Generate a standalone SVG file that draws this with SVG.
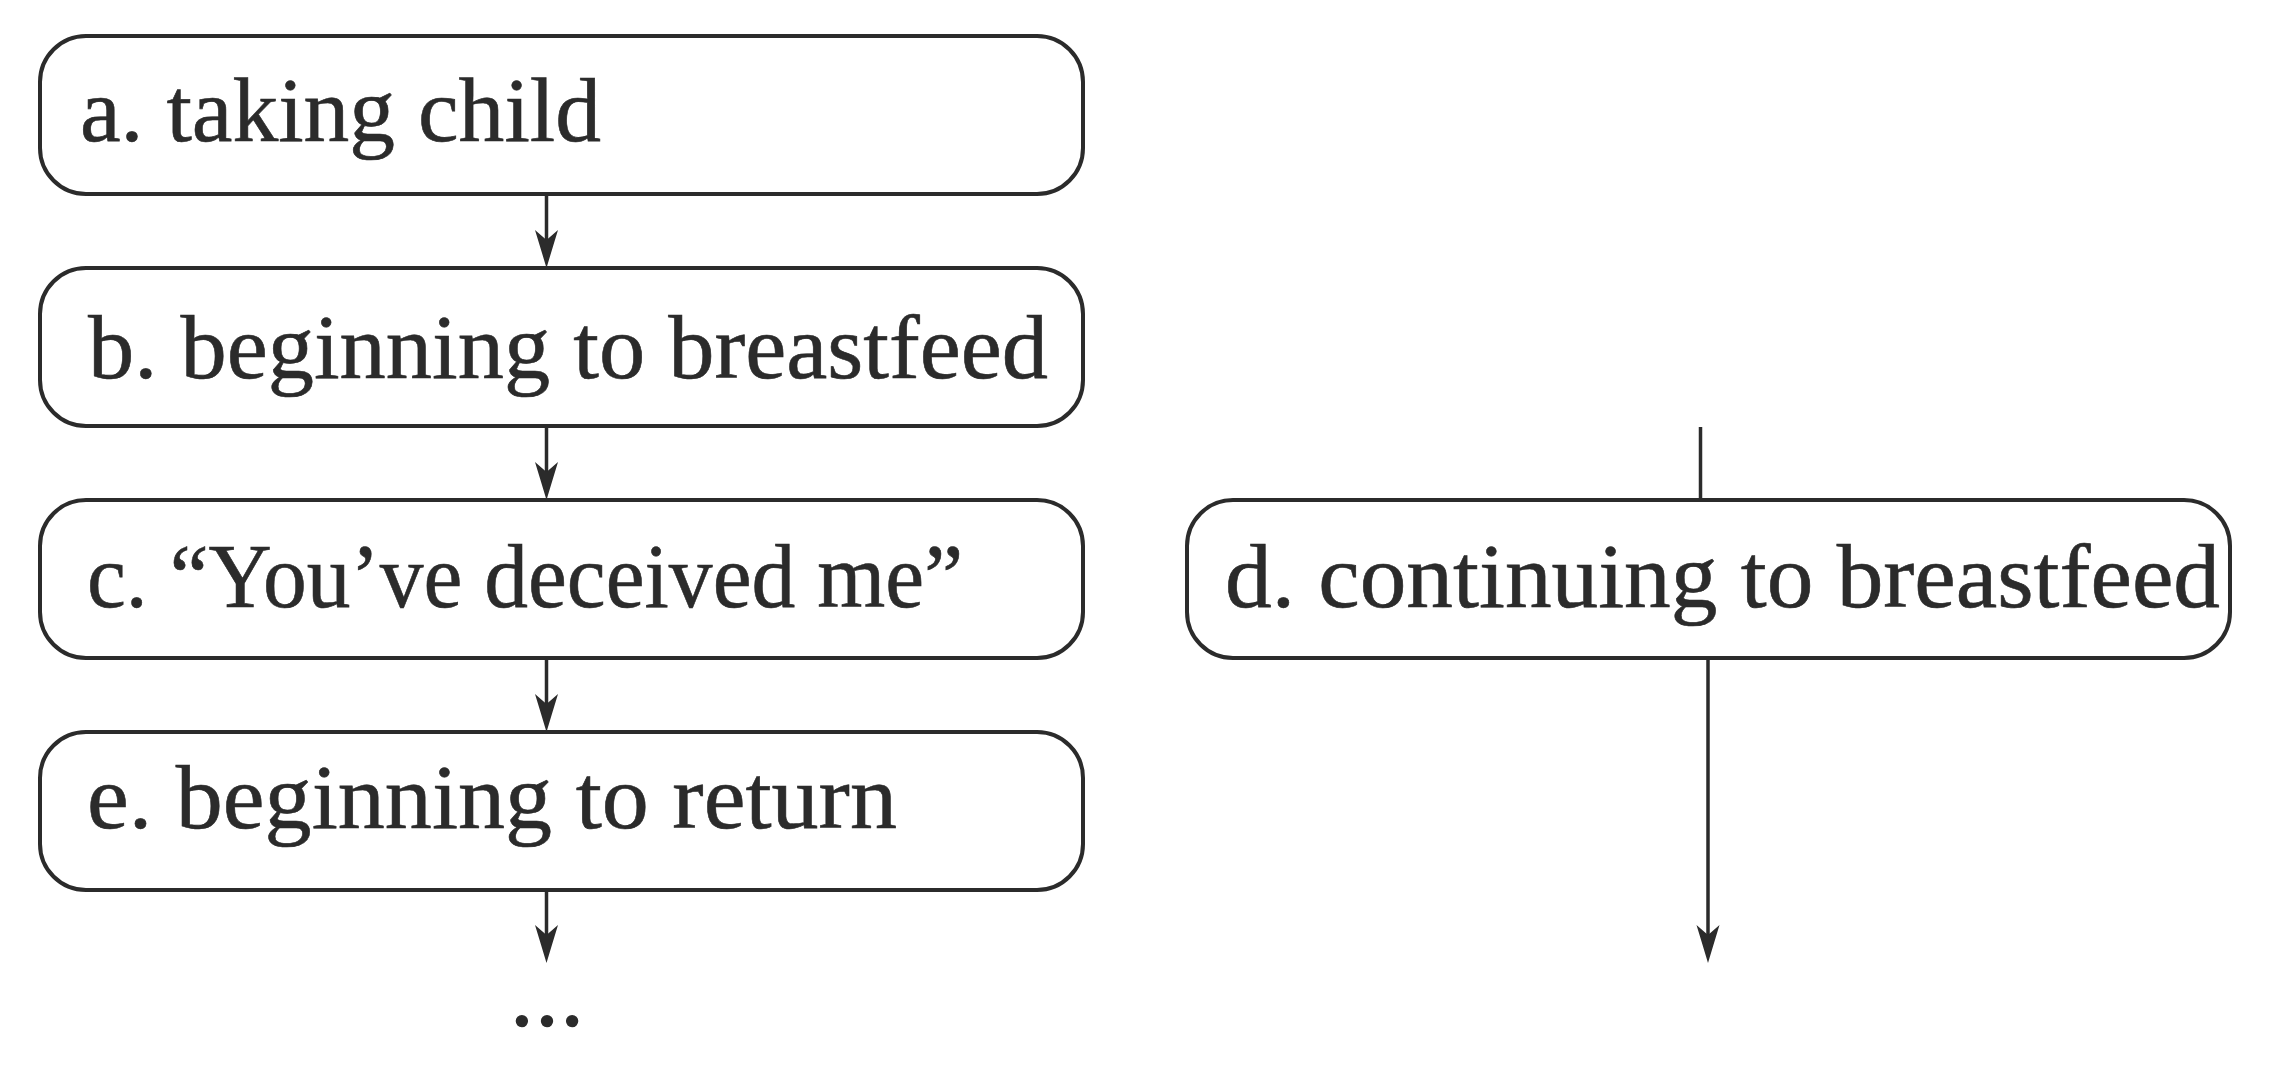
<svg xmlns="http://www.w3.org/2000/svg" width="2276" height="1068" viewBox="0 0 2276 1068">
<style>
.box{fill:#fff;stroke:#2b2b2b;stroke-width:4}
.lbl{font-family:"Liberation Serif","DejaVu Serif",serif;font-size:92px;fill:#2b2b2b;stroke:#2b2b2b;stroke-width:0.6}
.edge{stroke:#2b2b2b;stroke-width:3.5;fill:none}
</style>
<defs>
<marker id="ah" markerUnits="userSpaceOnUse" viewBox="0 0 38 24" refX="26" refY="12" markerWidth="38" markerHeight="24" orient="auto">
<path d="M38,12 Q18,6 0,0.5 L10,12 L0,23.5 Q18,18 38,12 Z" fill="#2b2b2b"/>
</marker>
</defs>
<rect width="2276" height="1068" fill="#fff"/>
<g id="connectors">
<line class="edge" x1="546.5" y1="195" x2="546.5" y2="256" marker-end="url(#ah)"/>
<line class="edge" x1="546.5" y1="427" x2="546.5" y2="488" marker-end="url(#ah)"/>
<line class="edge" x1="546.5" y1="659" x2="546.5" y2="720" marker-end="url(#ah)"/>
<line class="edge" x1="546.5" y1="891" x2="546.5" y2="951" marker-end="url(#ah)"/>
<line class="edge" x1="1700.5" y1="427" x2="1700.5" y2="500"/>
<line class="edge" x1="1708" y1="659" x2="1708" y2="951" marker-end="url(#ah)"/>
</g>
<g id="node-a">
<rect class="box" x="40" y="36" width="1043" height="158" rx="46" ry="46"/>
<text class="lbl" x="80" y="141" textLength="521" lengthAdjust="spacingAndGlyphs">a. taking child</text>
</g>
<g id="node-b">
<rect class="box" x="40" y="268" width="1043" height="158" rx="46" ry="46"/>
<text class="lbl" x="88" y="378" textLength="960" lengthAdjust="spacingAndGlyphs">b. beginning to breastfeed</text>
</g>
<g id="node-c">
<rect class="box" x="40" y="500" width="1043" height="158" rx="46" ry="46"/>
<text class="lbl" x="87" y="607" textLength="876" lengthAdjust="spacingAndGlyphs">c. “You’ve deceived me”</text>
</g>
<g id="node-e">
<rect class="box" x="40" y="732" width="1043" height="158" rx="46" ry="46"/>
<text class="lbl" x="87" y="828" textLength="810" lengthAdjust="spacingAndGlyphs">e. beginning to return</text>
</g>
<g id="node-d">
<rect class="box" x="1187" y="500" width="1043" height="158" rx="46" ry="46"/>
<text class="lbl" x="1225" y="607" textLength="995" lengthAdjust="spacingAndGlyphs">d. continuing to breastfeed</text>
</g>
<g id="ellipsis">
<text class="lbl" x="547" y="1025" text-anchor="middle" style="font-size:75px;stroke-width:3.5">…</text>
</g>
</svg>
